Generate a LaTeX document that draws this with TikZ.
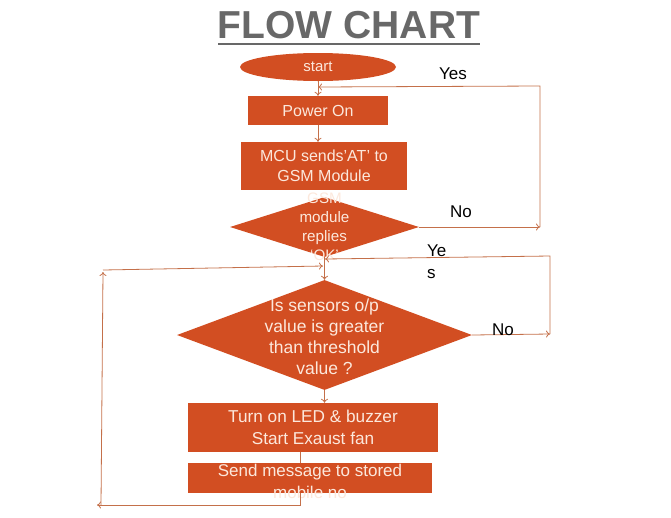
\documentclass[tikz,border=0pt]{standalone}
\usepackage{fontspec}
\setmainfont{Liberation Sans}
\usepackage{xcolor}
\usetikzlibrary{shapes.geometric,arrows.meta}

\definecolor{boxfill}{RGB}{210,78,34}
\definecolor{boxtext}{RGB}{252,232,220}
\definecolor{wire}{RGB}{196,112,74}
\definecolor{headgray}{RGB}{104,104,104}

\begin{document}
\begin{tikzpicture}[x=1pt,y=-1pt,
    box/.style={rectangle, fill=boxfill, text=boxtext, inner sep=0, align=center},
    decision/.style={diamond, fill=boxfill, inner sep=0},
    inside/.style={text=boxtext, align=center, inner sep=0},
    note/.style={text=black, font=\fontsize{17}{20}\selectfont, inner sep=0},
    wire/.style={draw=wire, line width=0.8pt},
    arr/.style={wire, -{To[length=4pt,width=7pt]}}]
    \useasboundingbox (0,0) rectangle (671,517);

    % Title
    \node[text=headgray, font=\bfseries\fontsize{39}{40}\selectfont, inner sep=0] (title) at (349,25) {FLOW CHART};
    \draw[headgray, line width=2.5pt] (218,44) -- (480,44);

    % Start and power on
    \node[ellipse, fill=boxfill, text=boxtext, minimum width=156pt, minimum height=28pt, inner sep=0,
          font=\fontsize{15}{17}\selectfont] (start) at (318,67) {start};
    \node[box, minimum width=140pt, minimum height=29pt, font=\fontsize{16}{19}\selectfont] (power) at (318,110.5) {Power On};

    % GSM check (diamond drawn under the MCU box)
    \node[decision, minimum width=189pt, minimum height=60pt] (gsm) at (324.5,227) {};
    \node[inside, font=\fontsize{15.2}{19}\selectfont] (gsmtxt) at (324.5,226.5) {GSM\\module\\replies\\`OK'};
    \node[box, minimum width=166pt, minimum height=48pt, font=\fontsize{16}{20}\selectfont] (mcu) at (324,166) {MCU sends'AT' to\\GSM Module};

    % Sensor check
    \node[decision, minimum width=295pt, minimum height=110pt] (sensor) at (324.5,335) {};
    \node[inside, font=\fontsize{17.5}{21}\selectfont] (sensortxt) at (324.5,337) {Is sensors o/p\\value is greater\\than threshold\\value ?};

    % Actions
    \node[box, minimum width=250pt, minimum height=49pt, font=\fontsize{17.2}{22}\selectfont] (alarm) at (313,427.5) {Turn on LED \& buzzer\\Start Exaust fan};
    \node[box, minimum width=244pt, minimum height=30pt] (msg) at (310,478) {};
    \node[inside, font=\fontsize{17}{22}\selectfont] (msgtxt) at (310,481) {Send message to stored\\mobile no};

    % Main flow
    \draw[arr] (start.south) -- (power.north);
    \draw[arr] (power.south) -- (power.south |- mcu.north);
    \draw[arr] (gsm.south) -- (sensor.north);
    \draw[arr] (sensor.south) -- (sensor.south |- alarm.north);

    % Loop back to power on
    \coordinate (gsmno) at (540,227);
    \coordinate (gsmup) at (540,86);
    \draw[arr] (gsm.east) -- (gsmno);
    \draw[arr] (gsmno) -- (gsmup) -- (318,87);
    \node[note] (yes1) at (453,74) {Yes};
    \node[note] (no1) at (461,212) {No};

    % Loop back to sensor check
    \coordinate (sensno) at (550,334);
    \coordinate (sensup) at (550,256);
    \draw[arr] (sensor.east) -- (sensno);
    \draw[arr] (sensno) -- (sensup) -- (325,259);
    \node[note, align=left, anchor=north west] (yes2) at (427,245) {Ye\\[2pt]s};
    \node[note] (no2) at (503,330) {No};

    % Loop from message back to top of sensor check
    \coordinate (msgdown) at (300,505);
    \coordinate (leftlow) at (97,505);
    \coordinate (leftbot) at (101,505);
    \coordinate (lefttop) at (103,272);
    \draw[wire] (300,452) -- (300,463);
    \draw[arr] (msg.south -| msgdown) -- (msgdown) -- (leftlow);
    \draw[arr] (leftbot) -- (lefttop);
    \draw[arr] (103,270) -- (323,266);
\end{tikzpicture}
\end{document}
